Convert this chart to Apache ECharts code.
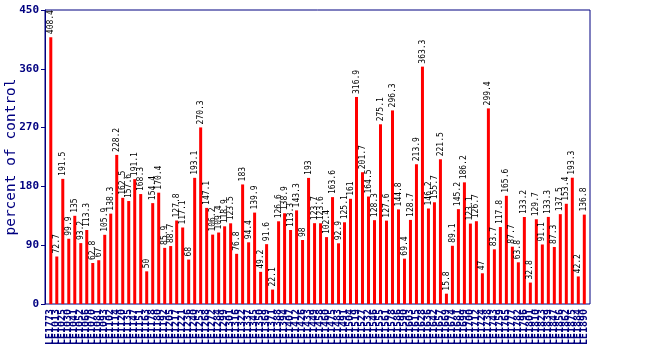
<!DOCTYPE html>
<html>
<head>
<meta charset="utf-8">
<script src="https://cdn.jsdelivr.net/npm/echarts@6/dist/echarts.min.js"></script>
<style>
html,body{margin:0;padding:0;background:#fff;}
#chart{width:650px;height:350px;}
</style>
</head>
<body>
<div id="chart"></div>
<script>
var categories = [
  "LE1773","LE1013","LE1025","LE1030","LE1041","LE1052","LE1066","LE1070","LE1081","LE1093",
  "LE1102","LE1114","LE1120","LE1135","LE1147","LE1151","LE1163","LE1178","LE1180","LE1192",
  "LE1205","LE1217","LE1221","LE1236","LE1240","LE1253","LE1268","LE1272","LE1284","LE1299",
  "LE1301","LE1316","LE1322","LE1337","LE1345","LE1350","LE1369","LE1371","LE1388","LE1394",
  "LE1407","LE1412","LE1426","LE1433","LE1449","LE1458","LE1460","LE1475","LE1483","LE1491",
  "LE1504","LE1519","LE1527","LE1532","LE1546","LE1555","LE1561","LE1578","LE1586","LE1590",
  "LE1603","LE1615","LE1628","LE1636","LE1642","LE1657","LE1669","LE1674","LE1681","LE1699",
  "LE1700","LE1712","LE1724","LE1738","LE1743","LE1759","LE1765","LE1777","LE1782","LE1796",
  "LE1801","LE1810","LE1823","LE1839","LE1847","LE1856","LE1862","LE1875","LE1884","LE1890"
];
var values = [
  408.4, 72.7, 191.5, 99.9, 135, 93.2, 113.3, 62.8, 67, 105.9,
  138.3, 228.2, 162.5, 157.6, 191.1, 168.3, 50, 154.4, 170.4, 85.9,
  88.7, 127.8, 117.1, 68, 193.1, 270.3, 147.1, 106.2, 109.4, 118.9,
  123.5, 76.8, 183, 94.4, 139.9, 49.2, 91.6, 22.1, 126.6, 138.9,
  113.3, 143.3, 98, 193, 123.7, 123.6, 102.4, 163.6, 92.9, 125.1,
  161, 316.9, 201.7, 164.5, 128.3, 275.1, 127.6, 296.3, 144.8, 69.4,
  128.7, 213.9, 363.3, 146.2, 155.7, 221.5, 15.8, 89.1, 145.2, 186.2,
  123.1, 126.7, 47, 299.4, 83.7, 117.8, 165.6, 87.7, 63.8, 133.2,
  32.8, 129.7, 91.1, 133.3, 87.3, 137.5, 153.4, 193.3, 42.2, 136.8
];
var yTicks = [0, 90, 180, 270, 360, 450];
var axisTitle = "percent of control";

var navy = "#000080";
var chart = echarts.init(document.getElementById('chart'), null, {renderer: 'canvas'});
var option = {
  animation: false,
  backgroundColor: '#ffffff',
  grid: [
    {left: 45, right: 60, top: 10, bottom: 46, show: true, borderColor: navy, borderWidth: 1, backgroundColor: 'transparent', containLabel: false, outerBoundsMode: 'none'},
    {left: 47.8, right: 62.7, top: 10, bottom: 46, show: false, containLabel: false, outerBoundsMode: 'none'}
  ],
  xAxis: [
    {gridIndex: 0, type: 'value', show: false, min: 0, max: 1},
    {
      gridIndex: 1, type: 'category', data: categories,
      axisLine: {show: false}, axisTick: {show: false},
      axisLabel: {interval: 0, rotate: 90, margin: 5, color: navy, fontFamily: 'DejaVu Sans Mono', fontSize: 10, fontWeight: 'bold'}
    }
  ],
  yAxis: [
    {
      gridIndex: 0, type: 'value', min: yTicks[0], max: yTicks[yTicks.length - 1], interval: yTicks[1] - yTicks[0],
      name: axisTitle, nameLocation: 'middle', nameGap: 26, nameRotate: 90, nameMoveOverlap: false,
      nameTextStyle: {color: navy, fontFamily: 'DejaVu Sans Mono', fontSize: 14.5},
      axisLine: {show: true, onZero: false, lineStyle: {color: navy, width: 1}},
      axisTick: {show: true, inside: false, length: 4, lineStyle: {color: navy}},
      axisLabel: {color: navy, fontFamily: 'DejaVu Sans Mono', fontSize: 11, fontWeight: 'bold', margin: 6},
      splitLine: {show: false}
    },
    {gridIndex: 1, type: 'value', show: false, min: yTicks[0], max: yTicks[yTicks.length - 1], splitLine: {show: false}}
  ],
  series: [{
    type: 'bar',
    xAxisIndex: 1, yAxisIndex: 1,
    data: values,
    barWidth: 3,
    itemStyle: {color: '#ff0000'},
    label: {
      show: true, position: 'top', rotate: 90, distance: 3,
      align: 'left', verticalAlign: 'middle',
      color: '#000000', fontFamily: 'DejaVu Sans Mono', fontSize: 8
    }
  }]
};
chart.setOption(option);
</script>
</body>
</html>
